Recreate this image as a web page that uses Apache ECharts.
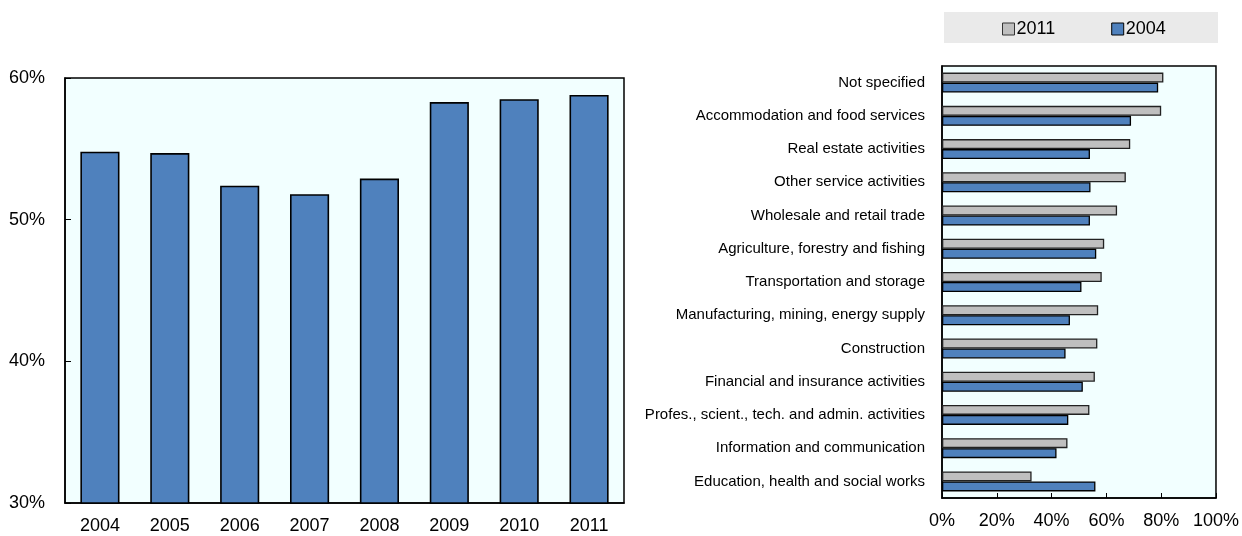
<!DOCTYPE html>
<html>
<head>
<meta charset="utf-8">
<script src="https://cdn.jsdelivr.net/npm/echarts@6/dist/echarts.min.js"></script>
<style>
  html, body { margin: 0; padding: 0; background: #fff; }
  #main { width: 1242px; height: 536px; }
</style>
</head>
<body>
<div id="main"></div>
<script type="text/javascript">
// left panel: share by year
var years = ['2004', '2005', '2006', '2007', '2008', '2009', '2010', '2011'];
var shareByYear = [54.8, 54.7, 52.4, 51.8, 52.9, 58.3, 58.5, 58.8];

// right panel: by sector
var sectors = [
  'Not specified',
  'Accommodation and food services',
  'Real estate activities',
  'Other service activities',
  'Wholesale and retail trade',
  'Agriculture, forestry and fishing',
  'Transportation and storage',
  'Manufacturing, mining, energy supply',
  'Construction',
  'Financial and insurance activities',
  'Profes., scient., tech. and admin. activities',
  'Information and communication',
  'Education, health and social works'
];
var sector2011 = [80.8, 80.0, 68.7, 67.1, 63.9, 59.2, 58.3, 57.0, 56.7, 55.8, 53.8, 45.8, 32.7];
var sector2004 = [78.9, 69.0, 54.0, 54.2, 54.0, 56.3, 50.9, 46.7, 45.1, 51.4, 46.1, 41.8, 56.0];

var FONT = "'Liberation Sans', Arial, sans-serif";
var BLUE = '#4F81BD';
var GREY = '#BFBFBF';
var PLOT_BG = '#F2FFFF';

var chart = echarts.init(document.getElementById('main'));

chart.setOption({
  animation: false,
  textStyle: { fontFamily: FONT },
  // grey strip behind the legend
  graphic: [{
    type: 'rect',
    shape: { x: 944, y: 12, width: 274, height: 31 },
    style: { fill: '#EAEAEA' },
    z: -1
  }],
  legend: {
    left: 997,
    top: 15,
    itemWidth: 12,
    itemHeight: 12,
    itemGap: 56,
    icon: 'rect',
    textStyle: { fontSize: 18, color: '#000', padding: [0, 0, 0, -3] },
    data: [
      { name: '2011', itemStyle: { color: GREY, borderColor: '#333', borderWidth: 1 } },
      { name: '2004', itemStyle: { color: BLUE, borderColor: '#000', borderWidth: 1 } }
    ]
  },
  grid: [
    { left: 65, top: 78, width: 559, height: 425, show: true,
      backgroundColor: PLOT_BG, borderColor: '#000', borderWidth: 1.5 },
    { left: 942, top: 66, width: 276, height: 432, show: true,
      backgroundColor: PLOT_BG, borderColor: '#000', borderWidth: 1.5 }
  ],
  xAxis: [{
    gridIndex: 0,
    type: 'category',
    data: years,
    axisLine: { lineStyle: { color: '#000', width: 1.5 } },
    axisTick: { inside: true, length: 6, lineStyle: { color: '#000' } },
    axisLabel: { color: '#000', fontSize: 18, margin: 14 }
  }, {
    gridIndex: 1,
    type: 'value',
    min: 0,
    max: 100,
    interval: 20,
    splitLine: { show: false },
    axisLine: { show: true, lineStyle: { color: '#000', width: 1.5 } },
    axisTick: { show: true, inside: true, length: 5, lineStyle: { color: '#000' } },
    axisLabel: { color: '#000', fontSize: 18, margin: 14, formatter: '{value}%' }
  }],
  yAxis: [{
    gridIndex: 0,
    type: 'value',
    min: 30,
    max: 60,
    interval: 10,
    splitLine: { show: false },
    axisLine: { show: true, lineStyle: { color: '#000', width: 1.5 } },
    axisTick: { show: true, inside: true, length: 6, lineStyle: { color: '#000' } },
    axisLabel: { color: '#000', fontSize: 18, margin: 20, formatter: '{value}%' }
  }, {
    gridIndex: 1,
    type: 'category',
    data: sectors,
    inverse: true,
    axisLine: { lineStyle: { color: '#000', width: 1.5 } },
    axisTick: { inside: true, length: 5, lineStyle: { color: '#000' } },
    axisLabel: { color: '#000', fontSize: 15, margin: 17 }
  }],
  series: [{
    name: 'share',
    type: 'bar',
    xAxisIndex: 0,
    yAxisIndex: 0,
    data: shareByYear,
    barWidth: '56%',
    itemStyle: { color: BLUE, borderColor: '#000', borderWidth: 1.6 }
  }, {
    name: '2011',
    type: 'bar',
    xAxisIndex: 1,
    yAxisIndex: 1,
    data: sector2011,
    barWidth: 10,
    barGap: '0%',
    itemStyle: { color: GREY, borderColor: '#222', borderWidth: 1.3 }
  }, {
    name: '2004',
    type: 'bar',
    xAxisIndex: 1,
    yAxisIndex: 1,
    data: sector2004,
    barWidth: 10,
    barGap: '0%',
    itemStyle: { color: BLUE, borderColor: '#000', borderWidth: 1.3 }
  }]
});
</script>
</body>
</html>
